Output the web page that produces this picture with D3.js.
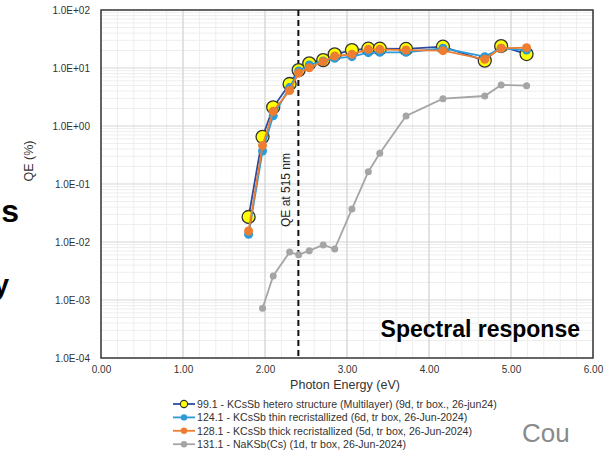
<!DOCTYPE html>
<html>
<head>
<meta charset="utf-8">
<script src="https://cdn.jsdelivr.net/npm/d3@7"></script>
<style>
  body { margin: 0; background: #fff; }
  svg { display: block; font-family: "Liberation Sans", Arial, sans-serif; }
</style>
</head>
<body>
<svg id="chart" width="608" height="451"></svg>
<script>
// photon energies (eV) for each measured point
const energy = [1.80, 1.97, 2.10, 2.30, 2.41, 2.54, 2.71, 2.85, 3.06, 3.26, 3.40, 3.72, 4.17, 4.68, 4.88, 5.19]
const energyGray = energy.slice(1)

// QE (%) per sample
const qeHetero = [0.027, 0.65, 2.1, 5.3, 9.2, 12.0, 13.7, 17.2, 20.4, 21.5, 21.5, 21.3, 23.3, 13.4, 23.9, 17.4]
const qeThin   = [0.0136, 0.37, 1.5, 4.6, 8.9, 11.3, 13.2, 14.7, 15.7, 18.4, 18.6, 18.6, 21.9, 15.7, 21.9, 20.4]
const qeThick  = [0.0155, 0.46, 1.8, 4.1, 8.2, 10.1, 12.9, 16.1, 17.2, 21.0, 21.0, 20.4, 19.9, 14.1, 21.9, 22.4]
const qeNaKSb  = [0.00072, 0.0026, 0.0067, 0.006, 0.0071, 0.0089, 0.0076, 0.037, 0.163, 0.34, 1.49, 2.96, 3.29, 5.1, 4.95]

const seriesNames = [
  "99.1 -  KCsSb hetero structure (Multilayer) (9d, tr box., 26-jun24)",
  "124.1 - KCsSb thin recristallized (6d, tr box, 26-Jun-2024)",
  "128.1 - KCsSb thick recristallized (5d, tr box, 26-Jun-2024)",
  "131.1 - NaKSb(Cs) (1d, tr box, 26-Jun-2024)"
]
const xTicks = [0, 1, 2, 3, 4, 5, 6]
const yTicks = [1e-4, 1e-3, 1e-2, 1e-1, 1, 10, 100]
const markerEnergy = 2.407 // 515 nm

const svg = d3.select("#chart")
const plot = {left: 101, right: 593, top: 10, bottom: 358}

let x = d3.scaleLinear().domain([0, 6]).range([plot.left, plot.right])
let y = d3.scaleLog().domain([1e-4, 100]).range([plot.bottom, plot.top])

// grid: minor first, then major
let minorX = d3.range(0, 6.001, 0.2)
svg.append("g").selectAll("line").data(minorX).enter().append("line")
  .attr("x1", d => x(d)).attr("x2", d => x(d))
  .attr("y1", plot.top).attr("y2", plot.bottom)
  .attr("stroke", "#eeeeee").attr("stroke-width", 1)
let minorY = []
yTicks.slice(0, -1).forEach(t => { for (let k = 2; k < 10; k++) minorY.push(t * k) })
svg.append("g").selectAll("line").data(minorY).enter().append("line")
  .attr("x1", plot.left).attr("x2", plot.right)
  .attr("y1", d => y(d)).attr("y2", d => y(d))
  .attr("stroke", "#eeeeee").attr("stroke-width", 1)

svg.append("g").selectAll("line").data(xTicks).enter().append("line")
  .attr("x1", d => x(d)).attr("x2", d => x(d))
  .attr("y1", plot.top).attr("y2", plot.bottom)
  .attr("stroke", "#d6d6d6").attr("stroke-width", 1.2)
svg.append("g").selectAll("line").data(yTicks).enter().append("line")
  .attr("x1", plot.left).attr("x2", plot.right)
  .attr("y1", d => y(d)).attr("y2", d => y(d))
  .attr("stroke", "#d6d6d6").attr("stroke-width", 1.2)

// border
svg.append("rect")
  .attr("x", plot.left).attr("y", plot.top)
  .attr("width", plot.right - plot.left).attr("height", plot.bottom - plot.top)
  .attr("fill", "none").attr("stroke", "#3a3a3a").attr("stroke-width", 1.5)

// axes (labels only)
let xAxis = d3.axisBottom(x).tickValues(xTicks).tickFormat(d3.format(".2f")).tickSize(0).tickPadding(8)
let yAxis = d3.axisLeft(y).tickValues(yTicks)
  .tickFormat(d => "1.0E" + (Math.log10(d) < 0 ? "-" : "+") + String(Math.abs(Math.round(Math.log10(d)))).padStart(2, "0"))
  .tickSize(0).tickPadding(11)
let gx = svg.append("g").attr("transform", "translate(0," + plot.bottom + ")").call(xAxis)
let gy = svg.append("g").attr("transform", "translate(" + plot.left + ",0)").call(yAxis)
;[gx, gy].forEach(g => {
  g.select(".domain").remove()
  g.selectAll("text").attr("font-family", "Liberation Sans, Arial, sans-serif")
    .attr("font-size", 10).attr("fill", "#333")
})

// dashed 515 nm marker
svg.append("line")
  .attr("x1", x(markerEnergy)).attr("x2", x(markerEnergy))
  .attr("y1", plot.top).attr("y2", plot.bottom)
  .attr("stroke", "#111").attr("stroke-width", 2).attr("stroke-dasharray", "6,4")
svg.append("text")
  .attr("transform", "translate(" + (x(markerEnergy) - 8) + ",190) rotate(-90)")
  .attr("text-anchor", "middle").attr("font-size", 12).attr("fill", "#222")
  .text("QE at 515 nm")

// series
const series = [
  {xs: energy, ys: qeHetero, line: "#2f4b9f", fill: "#ffff00", stroke: "#333", r: 6.5},
  {xs: energy, ys: qeThin, line: "#2e9ad8", fill: "#2e9ad8", stroke: "none", r: 4.5},
  {xs: energy, ys: qeThick, line: "#ed7d31", fill: "#ed7d31", stroke: "none", r: 4.5},
  {xs: energyGray, ys: qeNaKSb, line: "#a5a5a5", fill: "#a5a5a5", stroke: "none", r: 3.5}
]
let line = d3.line().x(d => x(d[0])).y(d => y(d[1]))
series.forEach(s => {
  let pts = s.xs.map((e, i) => [e, s.ys[i]])
  svg.append("path").datum(pts).attr("d", line)
    .attr("fill", "none").attr("stroke", s.line).attr("stroke-width", 1.8)
  svg.append("g").selectAll("circle").data(pts).enter().append("circle")
    .attr("cx", d => x(d[0])).attr("cy", d => y(d[1])).attr("r", s.r)
    .attr("fill", s.fill).attr("stroke", s.stroke).attr("stroke-width", 1.3)
})

// in-plot title
svg.append("text")
  .attr("x", 580).attr("y", 337).attr("text-anchor", "end")
  .attr("font-size", 23).attr("font-weight", "bold").attr("fill", "#000")
  .text("Spectral response")

// axis titles
svg.append("text")
  .attr("x", 345).attr("y", 389).attr("text-anchor", "middle")
  .attr("font-size", 12.5).attr("fill", "#333")
  .text("Photon Energy (eV)")
svg.append("text")
  .attr("transform", "translate(33,161) rotate(-90)")
  .attr("text-anchor", "middle").attr("font-size", 12.5).attr("fill", "#333")
  .text("QE (%)")

// legend
let legend = svg.append("g")
seriesNames.forEach((name, i) => {
  let s = series[i]
  let ly = 404 + i * 13.4
  legend.append("line").attr("x1", 173).attr("x2", 195).attr("y1", ly).attr("y2", ly)
    .attr("stroke", s.line).attr("stroke-width", 1.8)
  legend.append("circle").attr("cx", 184).attr("cy", ly).attr("r", i === 0 ? 3.6 : 3.2)
    .attr("fill", s.fill).attr("stroke", i === 0 ? "#333" : "none").attr("stroke-width", 1.1)
  legend.append("text").attr("x", 197).attr("y", ly + 3.7)
    .attr("font-size", 10.6).attr("fill", "#333").text(name)
})

// fragments of the surrounding slide
svg.append("text").attr("x", 522).attr("y", 442)
  .attr("font-size", 26).attr("fill", "#8a8a8a").text("Cou")
svg.append("text").attr("x", 19).attr("y", 222).attr("text-anchor", "end")
  .attr("font-size", 32).attr("font-weight", "bold").attr("fill", "#000").text("s")
svg.append("text").attr("x", 9).attr("y", 294).attr("text-anchor", "end")
  .attr("font-size", 28).attr("font-weight", "bold").attr("fill", "#000").text("y")
</script>
</body>
</html>
